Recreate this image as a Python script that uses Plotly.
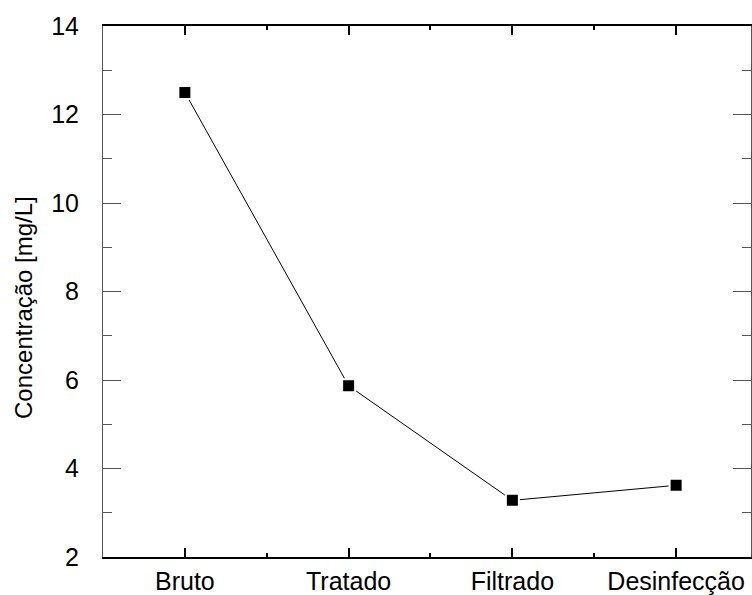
import plotly.graph_objects as go

categories = ["Bruto", "Tratado", "Filtrado", "Desinfecção"]
values = [12.5, 5.87, 3.28, 3.62]
y_ticks = [2, 4, 6, 8, 10, 12, 14]
x_pos = [1, 2, 3, 4]

fig = go.Figure()
fig.add_trace(go.Scatter(
    x=x_pos, y=values, mode="lines+markers",
    line=dict(color="black", width=1),
    marker=dict(symbol="square", size=13, color="black",
                line=dict(color="white", width=2)),
    showlegend=False,
))

font = "Liberation Sans, Arial, sans-serif"
L, T, B = 103, 26, 34
W, H = 752, 595
pw, ph = W - L, H - T - B
fig.update_layout(
    width=W, height=H,
    margin=dict(l=L, r=0, t=T, b=B),
    plot_bgcolor="white", paper_bgcolor="white",
    font=dict(family=font, color="black"),
    xaxis=dict(
        range=[0.5, 0.5 + pw / 164], tickvals=x_pos, ticktext=categories,
        ticks="inside", ticklen=9, tickwidth=2, tickcolor="black",
        showline=True, linecolor="black", linewidth=2, mirror="ticks",
        showgrid=False, zeroline=False,
        tickfont=dict(size=25, family=font),
        minor=dict(ticks="inside", ticklen=4, tickwidth=2, tickcolor="black", dtick=0.5, tick0=0.5, showgrid=False),
        ticklabelstandoff=1,
    ),
    yaxis=dict(
        range=[2, 14], tickvals=y_ticks,
        ticks="inside", ticklen=18, tickwidth=1, tickcolor="#555555",
        showline=True, linecolor="#555555", linewidth=1, mirror="ticks",
        showgrid=False, zeroline=False,
        tickfont=dict(size=25, family=font),
        minor=dict(ticks="inside", ticklen=9, tickwidth=1, tickcolor="#555555", dtick=1, showgrid=False),
        ticklabelstandoff=18,
    ),
    annotations=[dict(
        text="Concentração [mg/L]", textangle=-90, showarrow=False,
        xref="paper", yref="paper",
        x=(24 - L) / pw, y=(H - B - 310) / ph,
        xanchor="center", yanchor="middle",
        font=dict(size=24, family=font),
    )],
)
fig.write_html("out.html", config={"displayModeBar": False},
               post_script="document.body.style.margin='0';document.body.style.overflow='hidden';")
